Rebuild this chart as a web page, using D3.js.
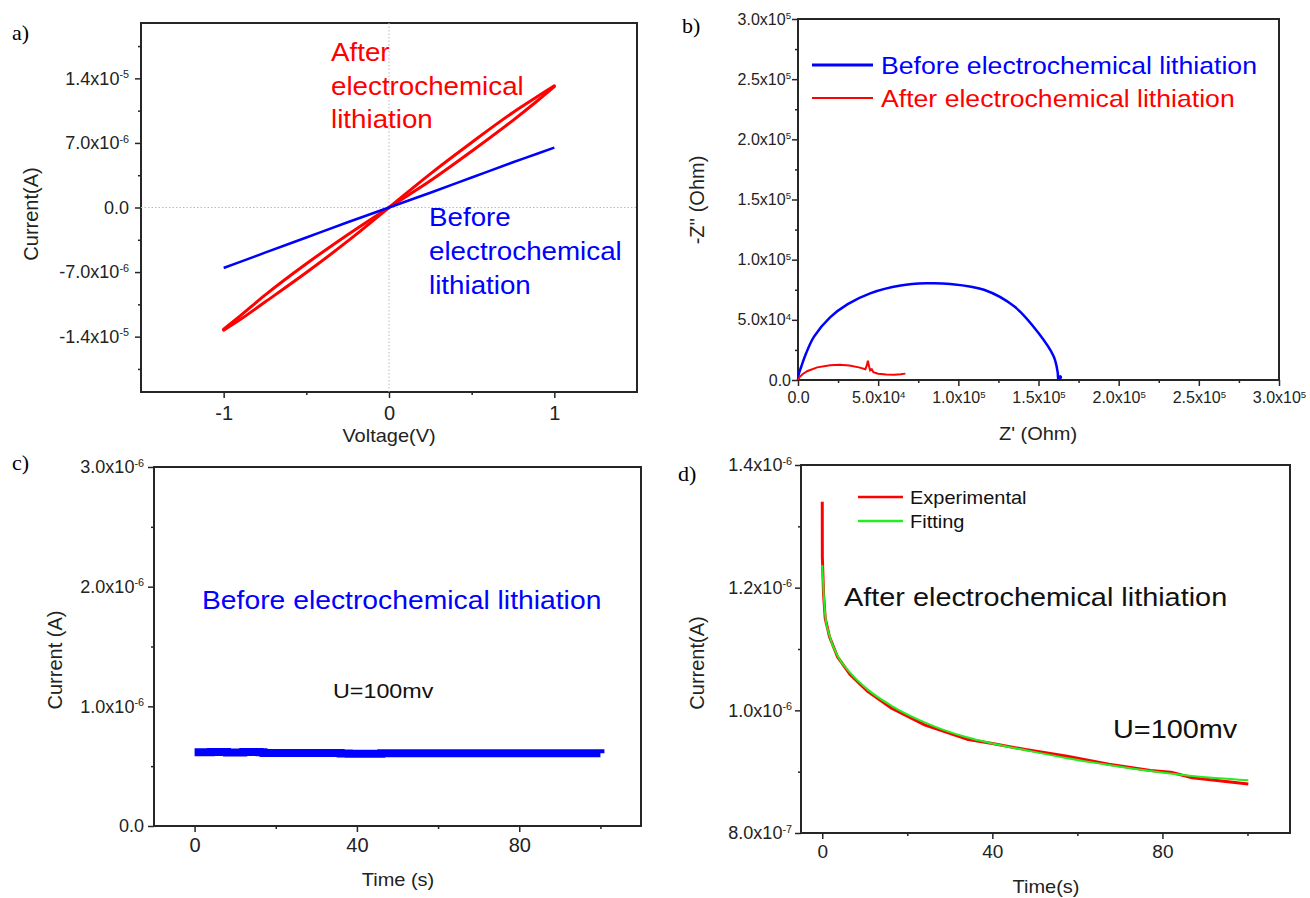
<!DOCTYPE html>
<html>
<head>
<meta charset="utf-8">
<script src="https://cdn.jsdelivr.net/npm/d3@7"></script>
<style>
  body { margin: 0; background: #fff; }
  svg text { font-family: "Liberation Sans", Arial, sans-serif; }
  svg text.pid { font-family: "Liberation Serif", "Times New Roman", serif; }
</style>
</head>
<body>
<div id="fig"></div>
<script>

// ---------- data ----------
// a) I-V sweeps, current in units of 1e-6 A
var ivVolt      = [-1, -0.9, -0.75, -0.5, -0.25, 0, 0.25, 0.5, 0.75, 0.9, 1];
var ivBefore    = [-6.55, -5.9, -4.9, -3.25, -1.6, 0, 1.6, 3.25, 4.9, 5.85, 6.5];
var ivAfterUp   = [-13.2, -11.75, -9.5, -6.1, -2.95, 0, 2.9, 6.1, 9.45, 11.6, 13.1];
var ivAfterDown = [-13.3, -12.15, -10.25, -7.05, -3.65, 0, 3.65, 7.05, 10.3, 12.05, 13.2];

// b) Nyquist plots, Z' and -Z'' in kOhm
var eisBeforeRe = [0, 0.5, 2, 5, 10, 20, 31, 45, 64, 80, 95, 116, 135, 150, 159.5, 162, 162.3, 163.5, 164, 162.8];
var eisBeforeIm = [0, 5, 11, 22, 36, 52, 63, 72, 78.5, 80.3, 79.8, 75, 61, 39, 19.5, 6, 1, 3.2, 2.2, 0.5];
var eisAfterRe  = [0, 1, 3, 6, 12, 20, 26, 32, 38, 42, 43, 43.6, 44.3, 45, 46, 47, 50, 55, 60, 64, 67];
var eisAfterIm  = [0, 2.5, 5, 7.5, 10.5, 12.3, 12.6, 12, 10.5, 9, 12.5, 16, 11.5, 8, 9, 6.5, 5.2, 4.5, 4.3, 4.8, 5.3];

// c) chronoamperometry before lithiation, current in 1e-6 A
var caTime   = [0, 4, 8, 12, 16, 17, 24, 30, 36, 38, 44, 46, 52, 60, 70, 80, 90, 100];
var caBefore = [0.616, 0.618, 0.615, 0.619, 0.617, 0.611, 0.61, 0.609, 0.606, 0.603, 0.604, 0.608, 0.608, 0.607, 0.608, 0.607, 0.608, 0.607];

// d) chronoamperometry after lithiation, current in 1e-6 A
var expTime = [0, 0.02, 0.3, 0.7, 1.7, 3.6, 6.6, 10.5, 16.4, 24.2, 34, 40, 47.8, 57.6, 67.4, 77.2, 82, 87, 100.2];
var expCurr = [1.34, 1.25, 1.19, 1.15, 1.12, 1.087, 1.058, 1.032, 1.003, 0.976, 0.953, 0.946, 0.936, 0.925, 0.912, 0.902, 0.899, 0.89, 0.88];
var fitTime = [0, 0.3, 0.7, 1.7, 3.6, 6.6, 10.5, 16.4, 24.2, 34, 40, 47.8, 57.6, 67.4, 77.2, 87, 100.2];
var fitCurr = [1.237, 1.195, 1.155, 1.122, 1.089, 1.061, 1.035, 1.007, 0.98, 0.956, 0.946, 0.935, 0.922, 0.911, 0.901, 0.893, 0.886];

// tick values
var aXTicks = [-1, 0, 1],            aXMinor = [-0.5, 0.5];
var aYTicks = [-1.4e-5, -7e-6, 0, 7e-6, 1.4e-5];
var aYMinor = [-1.75e-5, -1.05e-5, -3.5e-6, 3.5e-6, 1.05e-5, 1.75e-5];
var bTicks  = [0, 5e4, 1e5, 1.5e5, 2e5, 2.5e5, 3e5];
var bMinor  = [2.5e4, 7.5e4, 1.25e5, 1.75e5, 2.25e5, 2.75e5];
var cXTicks = [0, 40, 80],           cXMinor = [20, 60, 100];
var cYTicks = [0, 1e-6, 2e-6, 3e-6], cYMinor = [5e-7, 1.5e-6, 2.5e-6];
var dXTicks = [0, 40, 80],           dXMinor = [20, 60, 100];
var dYTicks = [8e-7, 1e-6, 1.2e-6, 1.4e-6], dYMinor = [9e-7, 1.1e-6, 1.3e-6];

var RED = "#ff0000", BLUE = "#0000ff", GREEN = "#22ee22", AX = "#262626";
var SX = 1.11;   // the original figure is slightly stretched sideways

var svg = d3.select("#fig").append("svg")
    .attr("width", 1310)
    .attr("height", 898)
    .style("background", "#fff");

// "1.4x10" + superscript "-5"
function sciParts(v) {
    if (v === 0) return ["0.0", ""];
    var e = Math.floor(Math.log10(Math.abs(v)) + 1e-9);
    var m = v / Math.pow(10, e);
    return [m.toFixed(1) + "x10", String(e)];
}

function sciText(sel) {
    sel.each(function(d) {
        var p = sciParts(d);
        var t = d3.select(this).text(null);
        t.append("tspan").text(p[0]);
        if (p[1]) t.append("tspan").attr("dy", "-0.6em").attr("font-size", "0.6em").text(p[1]);
    });
}

function styleAxis(g, fontSize) {
    g.select(".domain").remove();
    g.selectAll(".tick line").attr("stroke", AX).attr("stroke-width", 1.5);
    g.selectAll(".tick text").attr("fill", "#222").attr("font-size", fontSize);
}

function panel(p) {
    var x = d3.scaleLinear().domain(p.xDomain).range([p.left, p.right]);
    var y = d3.scaleLinear().domain(p.yDomain).range([p.bottom, p.top]);
    var g = svg.append("g");

    // minor ticks
    g.append("g").attr("transform", "translate(0," + p.bottom + ")")
        .call(d3.axisBottom(x).tickValues(p.xMinor).tickSize(3).tickFormat(""))
        .call(styleAxis);
    g.append("g").attr("transform", "translate(" + p.left + ",0)")
        .call(d3.axisLeft(y).tickValues(p.yMinor).tickSize(3).tickFormat(""))
        .call(styleAxis);

    // major ticks
    var xa = g.append("g").attr("transform", "translate(0," + p.bottom + ")")
        .call(d3.axisBottom(x).tickValues(p.xTicks).tickSize(6).tickPadding(p.xPad).tickFormat(p.xFmt || String))
        .call(styleAxis, p.xFont);
    if (p.xSci) xa.selectAll(".tick text").call(sciText);
    var ya = g.append("g").attr("transform", "translate(" + p.left + ",0)")
        .call(d3.axisLeft(y).tickValues(p.yTicks).tickSize(6).tickPadding(p.yPad))
        .call(styleAxis, p.yFont);
    ya.selectAll(".tick text").call(sciText);

    g.append("rect")
        .attr("x", p.left).attr("y", p.top)
        .attr("width", p.right - p.left).attr("height", p.bottom - p.top)
        .attr("fill", "none").attr("stroke", AX).attr("stroke-width", 2);

    // axis titles
    g.append("text")
        .attr("transform", "translate(" + p.yTitle[0] + "," + p.yTitle[1] + ") rotate(-90)")
        .attr("text-anchor", "middle").attr("dy", "0.35em")
        .attr("font-size", 20).attr("fill", "#222")
        .text(p.yLabel);
    g.append("text")
        .attr("transform", "translate(" + p.xTitle[0] + "," + p.xTitle[1] + ") scale(" + SX + ",1)")
        .attr("text-anchor", "middle").attr("dy", "0.35em")
        .attr("font-size", 18).attr("fill", "#222")
        .text(p.xLabel);

    g.append("text").attr("class", "pid")
        .attr("x", p.id[0]).attr("y", p.id[1])
        .attr("font-size", 22).attr("fill", "#000")
        .text(p.idText);

    return {x: x, y: y, g: g};
}

function note(x, y, str, size, color) {
    svg.append("text")
        .attr("transform", "translate(" + x + "," + y + ") scale(" + SX + ",1)")
        .attr("font-size", size).attr("fill", color)
        .text(str);
}

function pairs(xs, ys, k) {
    return xs.map(function(v, i) { return [v, ys[i] * k]; });
}

// ---------- a) I-V ----------
var pa = panel({
    left: 141, right: 637, top: 23, bottom: 392,
    xDomain: [-1.5, 1.5], yDomain: [-2e-5, 2e-5],
    xTicks: aXTicks, xMinor: aXMinor, yTicks: aYTicks, yMinor: aYMinor,
    xPad: 8, yPad: 6, xFont: 20, yFont: 18,
    yLabel: "Current(A)", xLabel: "Voltage(V)",
    yTitle: [31, 214], xTitle: [389, 436],
    id: [12, 40], idText: "a)"
});

pa.g.append("line")
    .attr("x1", pa.x(0)).attr("x2", pa.x(0)).attr("y1", 23).attr("y2", 392)
    .attr("stroke", "#bbb").attr("stroke-dasharray", "1.5,2");
pa.g.append("line")
    .attr("x1", 141).attr("x2", 637).attr("y1", pa.y(0)).attr("y2", pa.y(0))
    .attr("stroke", "#bbb").attr("stroke-dasharray", "1.5,2");

var lineA = d3.line()
    .x(function(d) { return pa.x(d[0]); })
    .y(function(d) { return pa.y(d[1]); })
    .curve(d3.curveMonotoneX);
[ivAfterUp, ivAfterDown].forEach(function(branch) {
    pa.g.append("path").attr("d", lineA(pairs(ivVolt, branch, 1e-6)))
        .attr("fill", "none").attr("stroke", RED).attr("stroke-width", 3).attr("stroke-linecap", "round");
});
pa.g.append("path").attr("d", lineA(pairs(ivVolt, ivBefore, 1e-6)))
    .attr("fill", "none").attr("stroke", BLUE).attr("stroke-width", 2.5);

note(331, 61, "After", 25, RED);
note(331, 95, "electrochemical", 25, RED);
note(331, 128, "lithiation", 25, RED);
note(429, 226, "Before", 25, BLUE);
note(429, 260, "electrochemical", 25, BLUE);
note(429, 294, "lithiation", 25, BLUE);

// ---------- b) Nyquist ----------
var pb = panel({
    left: 798, right: 1279, top: 19, bottom: 380,
    xDomain: [0, 3e5], yDomain: [0, 3e5],
    xTicks: bTicks, xMinor: bMinor, yTicks: bTicks, yMinor: bMinor,
    xPad: 6, yPad: 1, xFont: 16, yFont: 16, xSci: true,
    yLabel: "-Z'' (Ohm)", xLabel: "Z' (Ohm)",
    yTitle: [697, 200], xTitle: [1038, 434],
    id: [682, 33], idText: "b)"
});

var lineB = d3.line().x(function(d) { return pb.x(d[0] * 1e3); }).y(function(d) { return pb.y(d[1] * 1e3); });
pb.g.append("path").attr("d", lineB.curve(d3.curveCatmullRom)(pairs(eisBeforeRe, eisBeforeIm, 1)))
    .attr("fill", "none").attr("stroke", BLUE).attr("stroke-width", 2.5);
pb.g.append("path").attr("d", lineB.curve(d3.curveLinear)(pairs(eisAfterRe, eisAfterIm, 1)))
    .attr("fill", "none").attr("stroke", RED).attr("stroke-width", 2);

pb.g.append("line").attr("x1", 812).attr("x2", 873).attr("y1", 65).attr("y2", 65)
    .attr("stroke", BLUE).attr("stroke-width", 3);
pb.g.append("line").attr("x1", 812).attr("x2", 873).attr("y1", 98).attr("y2", 98)
    .attr("stroke", RED).attr("stroke-width", 2);
note(881, 74, "Before electrochemical lithiation", 24, BLUE);
note(881, 107, "After electrochemical lithiation", 24, RED);

// ---------- c) before lithiation ----------
var pc = panel({
    left: 154, right: 641, top: 467, bottom: 826,
    xDomain: [-10, 110], yDomain: [0, 3e-6],
    xTicks: cXTicks, xMinor: cXMinor, yTicks: cYTicks, yMinor: cYMinor,
    xPad: 6, yPad: 4, xFont: 20, yFont: 18,
    yLabel: "Current (A)", xLabel: "Time (s)",
    yTitle: [55, 660], xTitle: [398, 880],
    id: [12, 470], idText: "c)"
});

var lineC = d3.line().x(function(d) { return pc.x(d[0]); }).y(function(d) { return pc.y(d[1]); }).curve(d3.curveStepAfter);
pc.g.append("path").attr("d", lineC(pairs(caTime, caBefore, 1e-6)))
    .attr("fill", "none").attr("stroke", BLUE).attr("stroke-width", 8);

note(202, 609, "Before electrochemical lithiation", 25.5, BLUE);
note(333, 698, "U=100mv", 21, "#111");

// ---------- d) after lithiation ----------
var pd = panel({
    left: 801, right: 1290, top: 465, bottom: 833,
    xDomain: [-5, 110], yDomain: [8e-7, 1.4e-6],
    xTicks: dXTicks, xMinor: dXMinor, yTicks: dYTicks, yMinor: dYMinor,
    xPad: 6, yPad: 3, xFont: 19, yFont: 18,
    yLabel: "Current(A)", xLabel: "Time(s)",
    yTitle: [697, 663], xTitle: [1046, 887],
    id: [678, 481], idText: "d)"
});

var lineD = d3.line().x(function(d) { return pd.x(d[0]); }).y(function(d) { return pd.y(d[1]); });
pd.g.append("path").attr("d", lineD(pairs(expTime, expCurr, 1e-6)))
    .attr("fill", "none").attr("stroke", RED).attr("stroke-width", 3).attr("stroke-linejoin", "round");
pd.g.append("path").attr("d", lineD.curve(d3.curveMonotoneX)(pairs(fitTime, fitCurr, 1e-6)))
    .attr("fill", "none").attr("stroke", GREEN).attr("stroke-width", 2);

pd.g.append("line").attr("x1", 858).attr("x2", 903).attr("y1", 497).attr("y2", 497)
    .attr("stroke", RED).attr("stroke-width", 2.5);
pd.g.append("line").attr("x1", 858).attr("x2", 903).attr("y1", 521).attr("y2", 521)
    .attr("stroke", GREEN).attr("stroke-width", 2.5);
note(910, 504, "Experimental", 18, "#111");
note(910, 528, "Fitting", 18, "#111");

note(844, 606, "After electrochemical lithiation", 26, "#111");
note(1113, 738, "U=100mv", 26, "#111");

</script>
</body>
</html>
